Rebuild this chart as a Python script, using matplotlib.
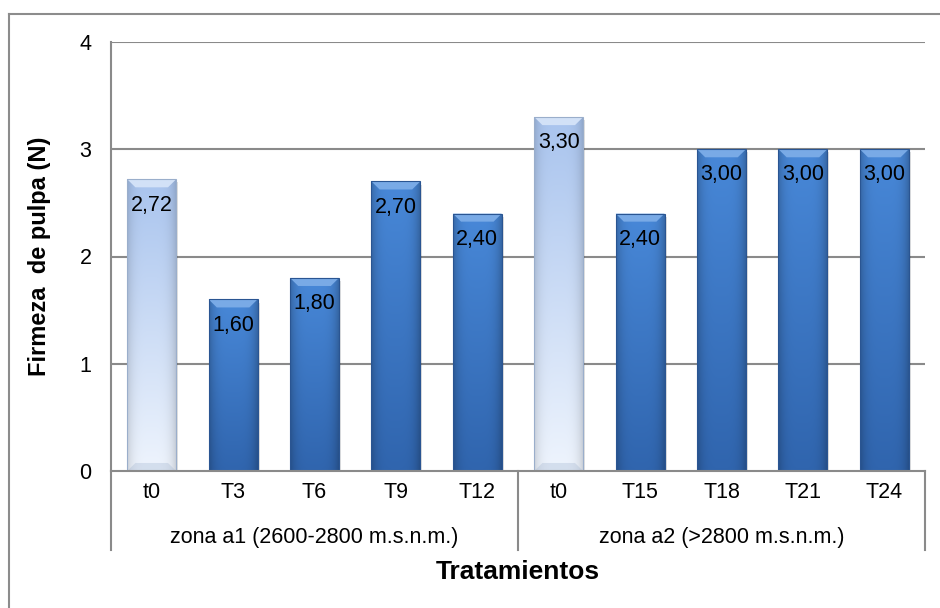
import numpy as np
import matplotlib.pyplot as plt
from matplotlib.colors import to_rgb
from matplotlib.lines import Line2D
from matplotlib.patches import Polygon, Rectangle

plt.rcParams['font.family'] = ['Liberation Sans', 'DejaVu Sans']

tratamientos = ['t0', 'T3', 'T6', 'T9', 'T12', 't0', 'T15', 'T18', 'T21', 'T24']
firmeza = [2.72, 1.60, 1.80, 2.70, 2.40, 3.30, 2.40, 3.00, 3.00, 3.00]
testigo = [True, False, False, False, False, True, False, False, False, False]
zonas = ['zona a1 (2600-2800 m.s.n.m.)', 'zona a2 (>2800 m.s.n.m.)']
zona_n = [5, 5]

W, H = 940, 608
fig = plt.figure(figsize=(W / 100, H / 100), dpi=100)
ax = fig.add_axes([111 / W, (H - 471) / H, (925 - 111) / W, (471 - 42) / H])

# marco exterior del grafico (solo se ven arriba e izquierda)
fig.add_artist(Line2D([9 / W, 9 / W], [0, 1 - 14 / H], transform=fig.transFigure,
                      color='#8c8c8c', lw=1.5))
fig.add_artist(Line2D([9 / W, 1], [1 - 14 / H, 1 - 14 / H], transform=fig.transFigure,
                      color='#8c8c8c', lw=1.5))

x = np.arange(len(firmeza))
ax.set_xlim(-0.5, len(firmeza) - 0.5)
ax.set_ylim(0, 4)

for g in [1, 2, 3, 4]:
    ax.axhline(g, color='#8a8a8a', lw=1.5, zorder=1)


def gradiente(top, bottom, edge=0.82, n=64):
    t = np.linspace(0, 1, n)[:, None, None]
    c = np.array(to_rgb(top)) * (1 - t) + np.array(to_rgb(bottom)) * t
    u = np.linspace(-1, 1, n)[None, :, None]
    f = 1 - (1 - edge) * np.abs(u) ** 4
    return np.clip(c * f, 0, 1)


bars = ax.bar(x, firmeza, width=0.6, color='none', edgecolor='none', zorder=3)
for b, v, claro in zip(bars, firmeza, testigo):
    x0, w, h = b.get_x(), b.get_width(), b.get_height()
    # sombra
    ax.add_patch(Rectangle((x0 + 0.025, -0.03), w, h, facecolor='#000000',
                           alpha=0.12, edgecolor='none', zorder=2))
    if claro:
        img = gradiente('#a9c4ee', '#eef4fd', edge=0.86)
        bevel = '#d2e1f7'
        ec = '#9aaecb'
    else:
        img = gradiente('#4888d8', '#3065ae', edge=0.78)
        bevel = '#79aae6'
        ec = '#2a5592'
    im = ax.imshow(img, extent=[x0, x0 + w, 0, h], aspect='auto',
                   origin='upper', zorder=3, interpolation='bilinear')
    im.set_clip_path(b)
    dx, dy = 0.1, 0.075
    ax.add_patch(Polygon([(x0, h), (x0 + w, h), (x0 + w - dx, h - dy), (x0 + dx, h - dy)],
                         closed=True, facecolor=bevel, edgecolor='none', zorder=4))
    if claro:
        ax.add_patch(Polygon([(x0, 0), (x0 + w, 0), (x0 + w - dx, dy), (x0 + dx, dy)],
                             closed=True, facecolor=ec, alpha=0.3, edgecolor='none', zorder=4))
    ax.add_patch(Rectangle((x0, 0), w, h, facecolor='none', edgecolor=ec,
                           lw=0.8, zorder=5))
    ax.text(b.get_x() + w / 2, v - 0.24, f'{v:.2f}'.replace('.', ','),
            ha='center', va='center', fontsize=15.5, color='black', zorder=6)

for s in ['top', 'right']:
    ax.spines[s].set_visible(False)
for s in ['left', 'bottom']:
    ax.spines[s].set_color('#8a8a8a')
    ax.spines[s].set_linewidth(1.5)
    ax.spines[s].set_zorder(7)

ax.set_yticks([0, 1, 2, 3, 4])
ax.set_yticklabels(['0', '1', '2', '3', '4'])
ax.tick_params(axis='y', length=0, pad=14, labelsize=15.5)
ax.set_xticks(x)
ax.set_xticklabels(tratamientos)
ax.tick_params(axis='x', length=0, pad=8, labelsize=15.5)

# separadores de grupo y etiquetas de zona
low = -(550 - 471) / (471 - 42)
trans = ax.get_xaxis_transform()
bordes = np.concatenate([[0], np.cumsum(zona_n)]) - 0.5
for bx in bordes:
    ax.plot([bx, bx], [0, low], transform=trans, color='#8a8a8a', lw=1.5, clip_on=False)
for i, z in enumerate(zonas):
    cx = (bordes[i] + bordes[i + 1]) / 2
    ax.text(cx, -(537 - 471) / (471 - 42), z, transform=trans, ha='center',
            va='center', fontsize=15.5)

ax.set_ylabel('Firmeza  de pulpa (N)', fontsize=17, fontweight='bold')
ax.yaxis.set_label_coords((51 - 111) / 814, 0.5)
fig.text((111 + 925) / 2 / W, 1 - 572 / H, 'Tratamientos', ha='center', va='center',
         fontsize=19, fontweight='bold')

fig.savefig('out.png', dpi=100)
